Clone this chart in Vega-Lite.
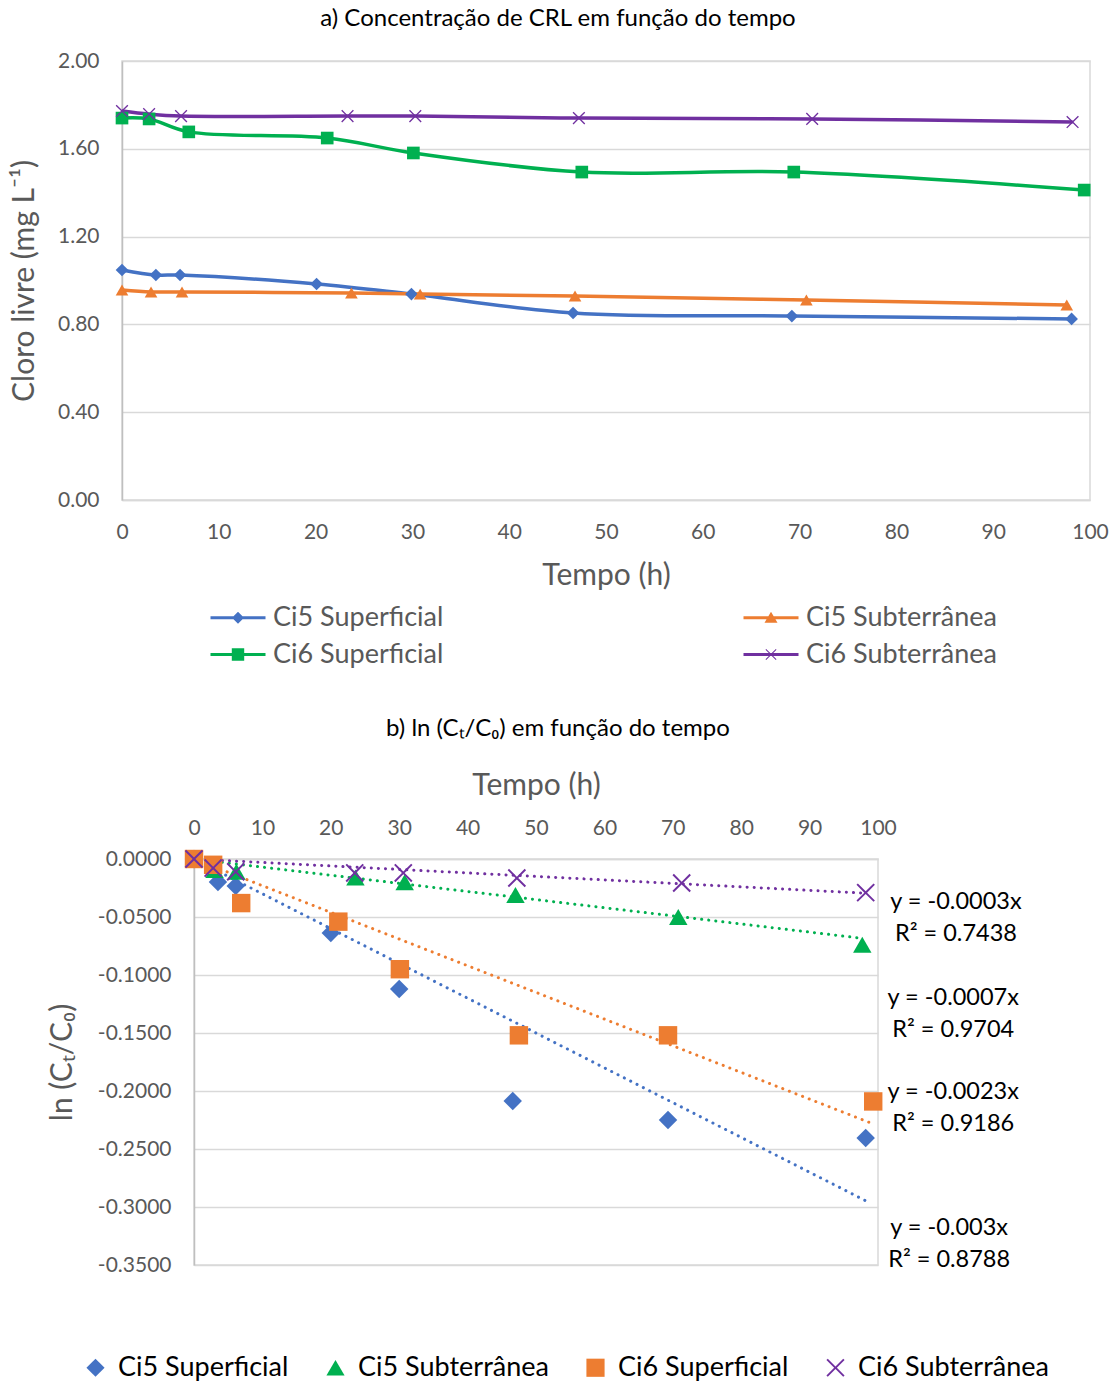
{
  "$schema": "https://vega.github.io/schema/vega-lite/v6.json",
  "padding": {"left": 8, "top": 6, "right": 5, "bottom": 0},
  "config": {
    "font": "Lato",
    "view": {"stroke": "#d9d9d9", "strokeWidth": 1.5},
    "axis": {"labelFont": "Lato", "titleFont": "Lato", "labelColor": "#595959", "titleColor": "#595959", "titleFontWeight": "normal", "ticks": false, "gridColor": "#d9d9d9", "gridWidth": 1.5, "domainColor": "#bfbfbf", "domainWidth": 1.5, "labelFontSize": 21, "titleFontSize": 30},
    "legend": {"labelFont": "Lato", "labelFontSize": 27, "padding": 0, "labelLimit": 400},
    "title": {"font": "Lato", "fontWeight": "normal", "color": "#000000"}
  },
  "resolve": {"scale": {"color": "independent", "stroke": "independent", "shape": "independent", "x": "independent", "y": "independent"}, "legend": {"color": "independent", "shape": "independent", "stroke": "independent"}},
  "spacing": 47,
  "vconcat": [
    {
      "width": 968,
      "height": 439,
      "title": {"text": "a) Concentração de CRL em função do tempo", "fontSize": 24, "dx": -48, "offset": 19, "anchor": "middle"},
      "data": {"values": [
        {"serie": "Ci5 Superficial", "t": 0, "v": 1.048},
        {"serie": "Ci5 Superficial", "t": 3.5, "v": 1.025},
        {"serie": "Ci5 Superficial", "t": 6.0, "v": 1.025},
        {"serie": "Ci5 Superficial", "t": 20.1, "v": 0.984},
        {"serie": "Ci5 Superficial", "t": 29.9, "v": 0.938},
        {"serie": "Ci5 Superficial", "t": 46.6, "v": 0.852},
        {"serie": "Ci5 Superficial", "t": 69.2, "v": 0.838},
        {"serie": "Ci5 Superficial", "t": 98.1, "v": 0.825},
        {"serie": "Ci5 Subterrânea", "t": 0, "v": 0.957},
        {"serie": "Ci5 Subterrânea", "t": 3.0, "v": 0.948},
        {"serie": "Ci5 Subterrânea", "t": 6.2, "v": 0.948},
        {"serie": "Ci5 Subterrânea", "t": 23.7, "v": 0.943},
        {"serie": "Ci5 Subterrânea", "t": 30.8, "v": 0.938},
        {"serie": "Ci5 Subterrânea", "t": 46.8, "v": 0.929},
        {"serie": "Ci5 Subterrânea", "t": 70.7, "v": 0.911},
        {"serie": "Ci5 Subterrânea", "t": 97.6, "v": 0.888},
        {"serie": "Ci6 Superficial", "t": 0, "v": 1.740},
        {"serie": "Ci6 Superficial", "t": 2.8, "v": 1.736},
        {"serie": "Ci6 Superficial", "t": 6.9, "v": 1.677},
        {"serie": "Ci6 Superficial", "t": 21.2, "v": 1.649},
        {"serie": "Ci6 Superficial", "t": 30.1, "v": 1.581},
        {"serie": "Ci6 Superficial", "t": 47.5, "v": 1.494},
        {"serie": "Ci6 Superficial", "t": 69.4, "v": 1.494},
        {"serie": "Ci6 Superficial", "t": 99.4, "v": 1.412},
        {"serie": "Ci6 Subterrânea", "t": 0, "v": 1.772},
        {"serie": "Ci6 Subterrânea", "t": 2.8, "v": 1.758},
        {"serie": "Ci6 Subterrânea", "t": 6.1, "v": 1.749},
        {"serie": "Ci6 Subterrânea", "t": 23.3, "v": 1.749},
        {"serie": "Ci6 Subterrânea", "t": 30.3, "v": 1.749},
        {"serie": "Ci6 Subterrânea", "t": 47.2, "v": 1.740},
        {"serie": "Ci6 Subterrânea", "t": 71.3, "v": 1.736},
        {"serie": "Ci6 Subterrânea", "t": 98.2, "v": 1.722}
      ]},
      "encoding": {
        "x": {"field": "t", "type": "quantitative", "scale": {"domain": [0, 100], "nice": false},
              "axis": {"title": "Tempo (h)", "values": [0, 10, 20, 30, 40, 50, 60, 70, 80, 90, 100], "grid": false, "labelPadding": 21, "titlePadding": 18, "domainColor": "#d9d9d9", "labelFlush": false}},
        "y": {"field": "v", "type": "quantitative", "scale": {"domain": [0, 2], "nice": false},
              "axis": {"title": "Cloro livre (mg L⁻¹)", "values": [0, 0.4, 0.8, 1.2, 1.6, 2.0], "format": ".2f", "grid": true, "labelPadding": 23, "titlePadding": 18}}
      },
      "resolve": {"scale": {"color": "independent", "shape": "independent", "stroke": "independent"}},
      "layer": [
        {
          "mark": {"type": "line", "interpolate": "catmull-rom", "strokeWidth": 3.5},
          "encoding": {
            "stroke": {"field": "serie", "type": "nominal", "legend": null,
                      "scale": {"domain": ["Ci6 Subterrânea", "Ci6 Superficial", "Ci5 Subterrânea", "Ci5 Superficial"], "range": ["#7030A0", "#00B050", "#ED7D31", "#4472C4"]}}
          }
        },
        {
          "mark": {"type": "point", "filled": true, "opacity": 1, "size": 160},
          "encoding": {
            "color": {"field": "serie", "type": "nominal", "legend": null,
                      "scale": {"domain": ["Ci5 Superficial", "Ci5 Subterrânea", "Ci6 Superficial", "Ci6 Subterrânea"], "range": ["#4472C4", "#ED7D31", "#00B050", "#7030A0"]}},
            "shape": {"field": "serie", "type": "nominal", "legend": null,
                      "scale": {"domain": ["Ci5 Superficial", "Ci5 Subterrânea", "Ci6 Superficial", "Ci6 Subterrânea"], "range": ["diamond", "triangle-up", "square", "M-1,-0.85L-0.85,-1L0,-0.15L0.85,-1L1,-0.85L0.15,0L1,0.85L0.85,1L0,0.15L-0.85,1L-1,0.85L-0.15,0Z"]}}
          }
        },
        {
          "mark": {"type": "point", "filled": true, "opacity": 1, "size": 0},
          "encoding": {
            "color": {"field": "serie", "type": "nominal",
                      "scale": {"domain": ["Ci5 Superficial", "Ci5 Subterrânea", "Ci6 Superficial", "Ci6 Subterrânea"], "range": ["#4472C4", "#ED7D31", "#00B050", "#7030A0"]},
                      "legend": {"title": null, "orient": "none", "legendX": 102.5, "legendY": 543, "direction": "horizontal", "columns": 2, "columnPadding": 300, "rowPadding": 9, "symbolSize": 400, "labelOffset": 21.5, "labelColor": "#595959", "labelFontSize": 27}},
            "shape": {"field": "serie", "type": "nominal",
                      "scale": {"domain": ["Ci5 Superficial", "Ci5 Subterrânea", "Ci6 Superficial", "Ci6 Subterrânea"], "range": [
                        "M-2.75,-0.15H2.75V0.15H-2.75Z M0,-0.6L0.6,0L0,0.6L-0.6,0Z",
                        "M-2.75,-0.15H2.75V0.15H-2.75Z M0,-0.6L0.65,0.5L-0.65,0.5Z",
                        "M-2.75,-0.15H2.75V0.15H-2.75Z M-0.62,-0.62H0.62V0.62H-0.62Z",
                        "M-2.75,-0.15H2.75V0.15H-2.75Z M-0.55,-0.48L-0.48,-0.55L0,-0.07L0.48,-0.55L0.55,-0.48L0.07,0L0.55,0.48L0.48,0.55L0,0.07L-0.48,0.55L-0.55,0.48L-0.07,0Z"]},
                      "legend": {"title": null, "orient": "none", "legendX": 102.5, "legendY": 543, "direction": "horizontal", "columns": 2, "columnPadding": 300, "rowPadding": 9, "symbolSize": 400, "labelOffset": 21.5, "labelColor": "#595959", "labelFontSize": 27}}
          }
        }
      ]
    },
    {
      "bounds": "flush",
      "spacing": 20,
      "hconcat": [
        {"width": 52, "height": 10, "data": {"values": [{"a": 1}]}, "mark": {"type": "point", "opacity": 0}, "encoding": {}, "view": {"stroke": null}},
        {
          "width": 684,
          "height": 406,
          "title": {"text": "b) ln (Cₜ/C₀) em função do tempo", "fontSize": 24, "dx": 22, "offset": 29, "anchor": "middle"},
          "encoding": {
            "x": {"field": "t", "type": "quantitative", "scale": {"domain": [0, 100], "nice": false},
                  "axis": {"orient": "top", "title": "Tempo (h)", "values": [0, 10, 20, 30, 40, 50, 60, 70, 80, 90, 100], "grid": false, "labelPadding": 21, "titlePadding": 17, "domainColor": "#d9d9d9", "labelFlush": false}},
            "y": {"field": "v", "type": "quantitative", "scale": {"domain": [-0.35, 0], "nice": false},
                  "axis": {"title": "ln (Cₜ/C₀)", "values": [0, -0.05, -0.1, -0.15, -0.2, -0.25, -0.3, -0.35], "labelExpr": "replace(format(datum.value, '.4f'), '−', '-')", "grid": true, "labelPadding": 23, "titlePadding": 20}}
          },
          "layer": [
            {
              "data": {"values": [
                {"serie": "Ci5 Superficial", "t": 0, "v": 0},
                {"serie": "Ci5 Superficial", "t": 98.2, "v": -0.2946},
                {"serie": "Ci5 Subterrânea", "t": 0, "v": 0},
                {"serie": "Ci5 Subterrânea", "t": 97.7, "v": -0.0684},
                {"serie": "Ci6 Superficial", "t": 0, "v": 0},
                {"serie": "Ci6 Superficial", "t": 99.3, "v": -0.2284},
                {"serie": "Ci6 Subterrânea", "t": 0, "v": 0},
                {"serie": "Ci6 Subterrânea", "t": 98.2, "v": -0.0295}
              ]},
              "mark": {"type": "line", "strokeWidth": 3, "strokeDash": [0.1, 7], "strokeCap": "round"},
              "encoding": {
                "stroke": {"field": "serie", "type": "nominal", "legend": null,
                          "scale": {"domain": ["Ci6 Subterrânea", "Ci6 Superficial", "Ci5 Subterrânea", "Ci5 Superficial"], "range": ["#7030A0", "#ED7D31", "#00B050", "#4472C4"]}}
              }
            },
            {
              "data": {"values": [
                {"serie": "Ci5 Superficial", "t": 0, "v": 0},
                {"serie": "Ci5 Superficial", "t": 3.5, "v": -0.0198},
                {"serie": "Ci5 Superficial", "t": 6.1, "v": -0.0233},
                {"serie": "Ci5 Superficial", "t": 20.0, "v": -0.0638},
                {"serie": "Ci5 Superficial", "t": 30.0, "v": -0.112},
                {"serie": "Ci5 Superficial", "t": 46.6, "v": -0.2086},
                {"serie": "Ci5 Superficial", "t": 69.3, "v": -0.225},
                {"serie": "Ci5 Superficial", "t": 98.2, "v": -0.2405},
                {"serie": "Ci5 Subterrânea", "t": 0, "v": 0},
                {"serie": "Ci5 Subterrânea", "t": 3.0, "v": -0.0095},
                {"serie": "Ci5 Subterrânea", "t": 6.2, "v": -0.011},
                {"serie": "Ci5 Subterrânea", "t": 23.6, "v": -0.016},
                {"serie": "Ci5 Subterrânea", "t": 30.8, "v": -0.02},
                {"serie": "Ci5 Subterrânea", "t": 47.0, "v": -0.031},
                {"serie": "Ci5 Subterrânea", "t": 70.8, "v": -0.05},
                {"serie": "Ci5 Subterrânea", "t": 97.7, "v": -0.074},
                {"serie": "Ci6 Superficial", "t": 0, "v": 0},
                {"serie": "Ci6 Superficial", "t": 2.8, "v": -0.005},
                {"serie": "Ci6 Superficial", "t": 6.9, "v": -0.038},
                {"serie": "Ci6 Superficial", "t": 21.1, "v": -0.054},
                {"serie": "Ci6 Superficial", "t": 30.1, "v": -0.095},
                {"serie": "Ci6 Superficial", "t": 47.5, "v": -0.152},
                {"serie": "Ci6 Superficial", "t": 69.3, "v": -0.152},
                {"serie": "Ci6 Superficial", "t": 99.3, "v": -0.209},
                {"serie": "Ci6 Subterrânea", "t": 0, "v": 0},
                {"serie": "Ci6 Subterrânea", "t": 2.8, "v": -0.0078},
                {"serie": "Ci6 Subterrânea", "t": 6.1, "v": -0.011},
                {"serie": "Ci6 Subterrânea", "t": 23.5, "v": -0.012},
                {"serie": "Ci6 Subterrânea", "t": 30.6, "v": -0.012},
                {"serie": "Ci6 Subterrânea", "t": 47.2, "v": -0.0164},
                {"serie": "Ci6 Subterrânea", "t": 71.3, "v": -0.0207},
                {"serie": "Ci6 Subterrânea", "t": 98.2, "v": -0.029}
              ]},
              "mark": {"type": "point", "filled": true, "opacity": 1, "size": 340},
              "encoding": {
                "color": {"field": "serie", "type": "nominal",
                          "scale": {"domain": ["Ci5 Superficial", "Ci5 Subterrânea", "Ci6 Superficial", "Ci6 Subterrânea"], "range": ["#4472C4", "#00B050", "#ED7D31", "#7030A0"]},
                          "legend": {"title": null, "orient": "none", "legendX": -40, "legendY": 495, "direction": "horizontal", "columns": 4, "columnPadding": 33, "symbolSize": 330, "labelOffset": 9, "labelColor": "#000000", "labelFontSize": 27}},
                "shape": {"field": "serie", "type": "nominal",
                          "scale": {"domain": ["Ci5 Superficial", "Ci5 Subterrânea", "Ci6 Superficial", "Ci6 Subterrânea"], "range": ["diamond", "triangle-up", "square", "M-1,-0.85L-0.85,-1L0,-0.15L0.85,-1L1,-0.85L0.15,0L1,0.85L0.85,1L0,0.15L-0.85,1L-1,0.85L-0.15,0Z"]},
                          "legend": {"title": null, "orient": "none", "legendX": -40, "legendY": 495, "direction": "horizontal", "columns": 4, "columnPadding": 33, "symbolSize": 330, "labelOffset": 9, "labelColor": "#000000", "labelFontSize": 27}}
              }
            },
            {
              "data": {"values": [
                {"serie": "Ci6 Subterrânea", "t": 111.4, "v": -0.037, "eq": "y = -0.0003x\nR² = 0.7438"},
                {"serie": "Ci5 Subterrânea", "t": 111.0, "v": -0.1194, "eq": "y = -0.0007x\nR² = 0.9704"},
                {"serie": "Ci6 Superficial", "t": 111.0, "v": -0.2009, "eq": "y = -0.0023x\nR² = 0.9186"},
                {"serie": "Ci5 Superficial", "t": 110.4, "v": -0.318, "eq": "y = -0.003x\nR² = 0.8788"}
              ]},
              "mark": {"type": "text", "align": "center", "baseline": "middle", "fontSize": 23.5, "lineBreak": "\n", "lineHeight": 32, "color": "#000000"},
              "encoding": {"text": {"field": "eq", "type": "nominal"}}
            }
          ]
        }
      ]
    }
  ]
}
